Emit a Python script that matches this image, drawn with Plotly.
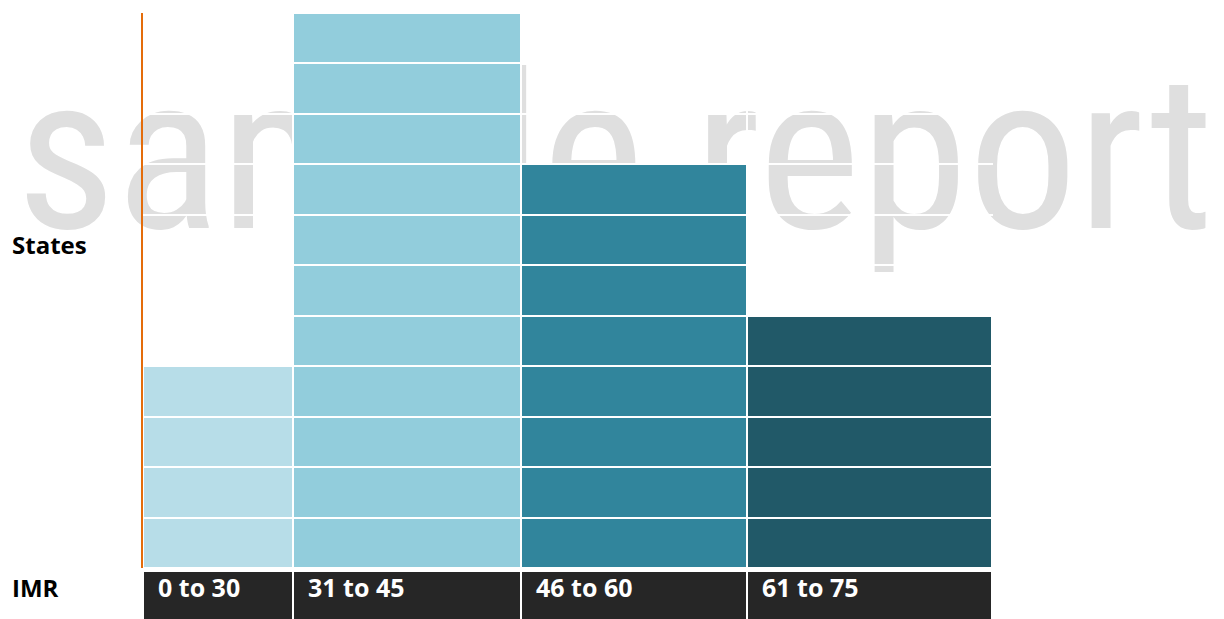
import plotly.graph_objects as go
import numpy as np

# ---- data ----
imr_bins = ["0 to 30", "31 to 45", "46 to 60", "61 to 75"]
state_counts = [4, 11, 8, 5]
y_label = "States"
x_label = "IMR"
watermark = "sample report"

# ---- styling / layout ----
bin_colors = ["#B7DDE8", "#92CDDC", "#31859C", "#215968"]
col_widths = [150, 228, 227, 245]
footer_color = "#262626"
axis_color = "#E46C0A"
label_font = "Open Sans"

OFF = 8  # page body margin
W, H = 1224 - OFF, 619 - OFF
ml, mr, mt, mb = 143 - OFF, 1224 - 993, 13 - OFF, 0
plot_h = H - mt - mb
pw = W - ml - mr
def py(p):  # reference pixel y -> paper
    return (619 - p) / plot_h
def px(p):
    return (p - 143) / pw

main_dom = [py(568), 1]
foot_dom = [0, py(571)]

edges = np.concatenate([[0], np.cumsum(col_widths)])
centers = (edges[:-1] + edges[1:]) / 2
ymax = max(state_counts)

fig = go.Figure()

for name, n, c, w, col in zip(imr_bins, state_counts, centers, col_widths, bin_colors):
    fig.add_trace(go.Bar(
        x=[c] * n, y=[1] * n, base=list(range(n)), width=[w] * n,
        marker=dict(color=col, line=dict(color="white", width=2)),
        name=name, showlegend=False, hoverinfo="skip",
        xaxis="x", yaxis="y",
    ))

fig.add_trace(go.Bar(
    x=list(centers), y=[1] * len(imr_bins), base=[0] * len(imr_bins),
    width=col_widths,
    marker=dict(color=footer_color, line=dict(color="white", width=2)),
    showlegend=False, hoverinfo="skip", xaxis="x", yaxis="y2",
))

annotations = []
for name, e in zip(imr_bins, edges[:-1]):
    annotations.append(dict(
        x=e, y=py(587), xref="x", yref="paper", text=f"<b>{name}</b>",
        xanchor="left", yanchor="middle", xshift=13, showarrow=False,
        font=dict(family=label_font, size=25, color="white"),
    ))
annotations.append(dict(
    x=px(10), y=py(245), xref="paper", yref="paper",
    text=f"<b>{y_label}</b>", xanchor="left", yanchor="middle", showarrow=False,
    font=dict(family=label_font, size=24, color="black"),
))
annotations.append(dict(
    x=px(10), y=py(587), xref="paper", yref="paper",
    text=f"<b>{x_label}</b>", xanchor="left", yanchor="middle", showarrow=False,
    font=dict(family=label_font, size=24, color="black"),
))

wm_cx = px(615)
wm_cy = py(137)
fig.add_shape(
    type="rect", xref="paper", yref="paper",
    x0=wm_cx - 0.1, x1=wm_cx + 0.1, y0=wm_cy - 0.05, y1=wm_cy + 0.05,
    line=dict(width=0), fillcolor="rgba(0,0,0,0)", layer="below",
    label=dict(text=watermark, textposition="middle center",
               font=dict(family="Roboto Condensed", weight=400, size=218,
                         color="#DFDFDF")),
)

fig.update_layout(
    width=W, height=H,
    margin=dict(l=ml, r=mr, t=mt, b=mb, pad=0),
    paper_bgcolor="white", plot_bgcolor="rgba(0,0,0,0)",
    barmode="overlay", bargap=0,
    annotations=annotations,
    xaxis=dict(range=[0, edges[-1] + 1], tickvals=list(edges[1:]), showticklabels=False,
               ticks="", showgrid=True, gridcolor="white", gridwidth=2,
               zeroline=False, showline=False, fixedrange=True),
    yaxis=dict(domain=main_dom, range=[0, ymax], tickvals=list(range(1, ymax + 1)),
               showticklabels=False, ticks="", showgrid=True, gridcolor="white",
               gridwidth=2, zeroline=False, showline=True, linecolor=axis_color,
               linewidth=2, fixedrange=True),
    yaxis2=dict(domain=foot_dom, range=[0.03, 1], visible=False, showgrid=False,
                zeroline=False, fixedrange=True),
)

fig.write_html("out.html")
